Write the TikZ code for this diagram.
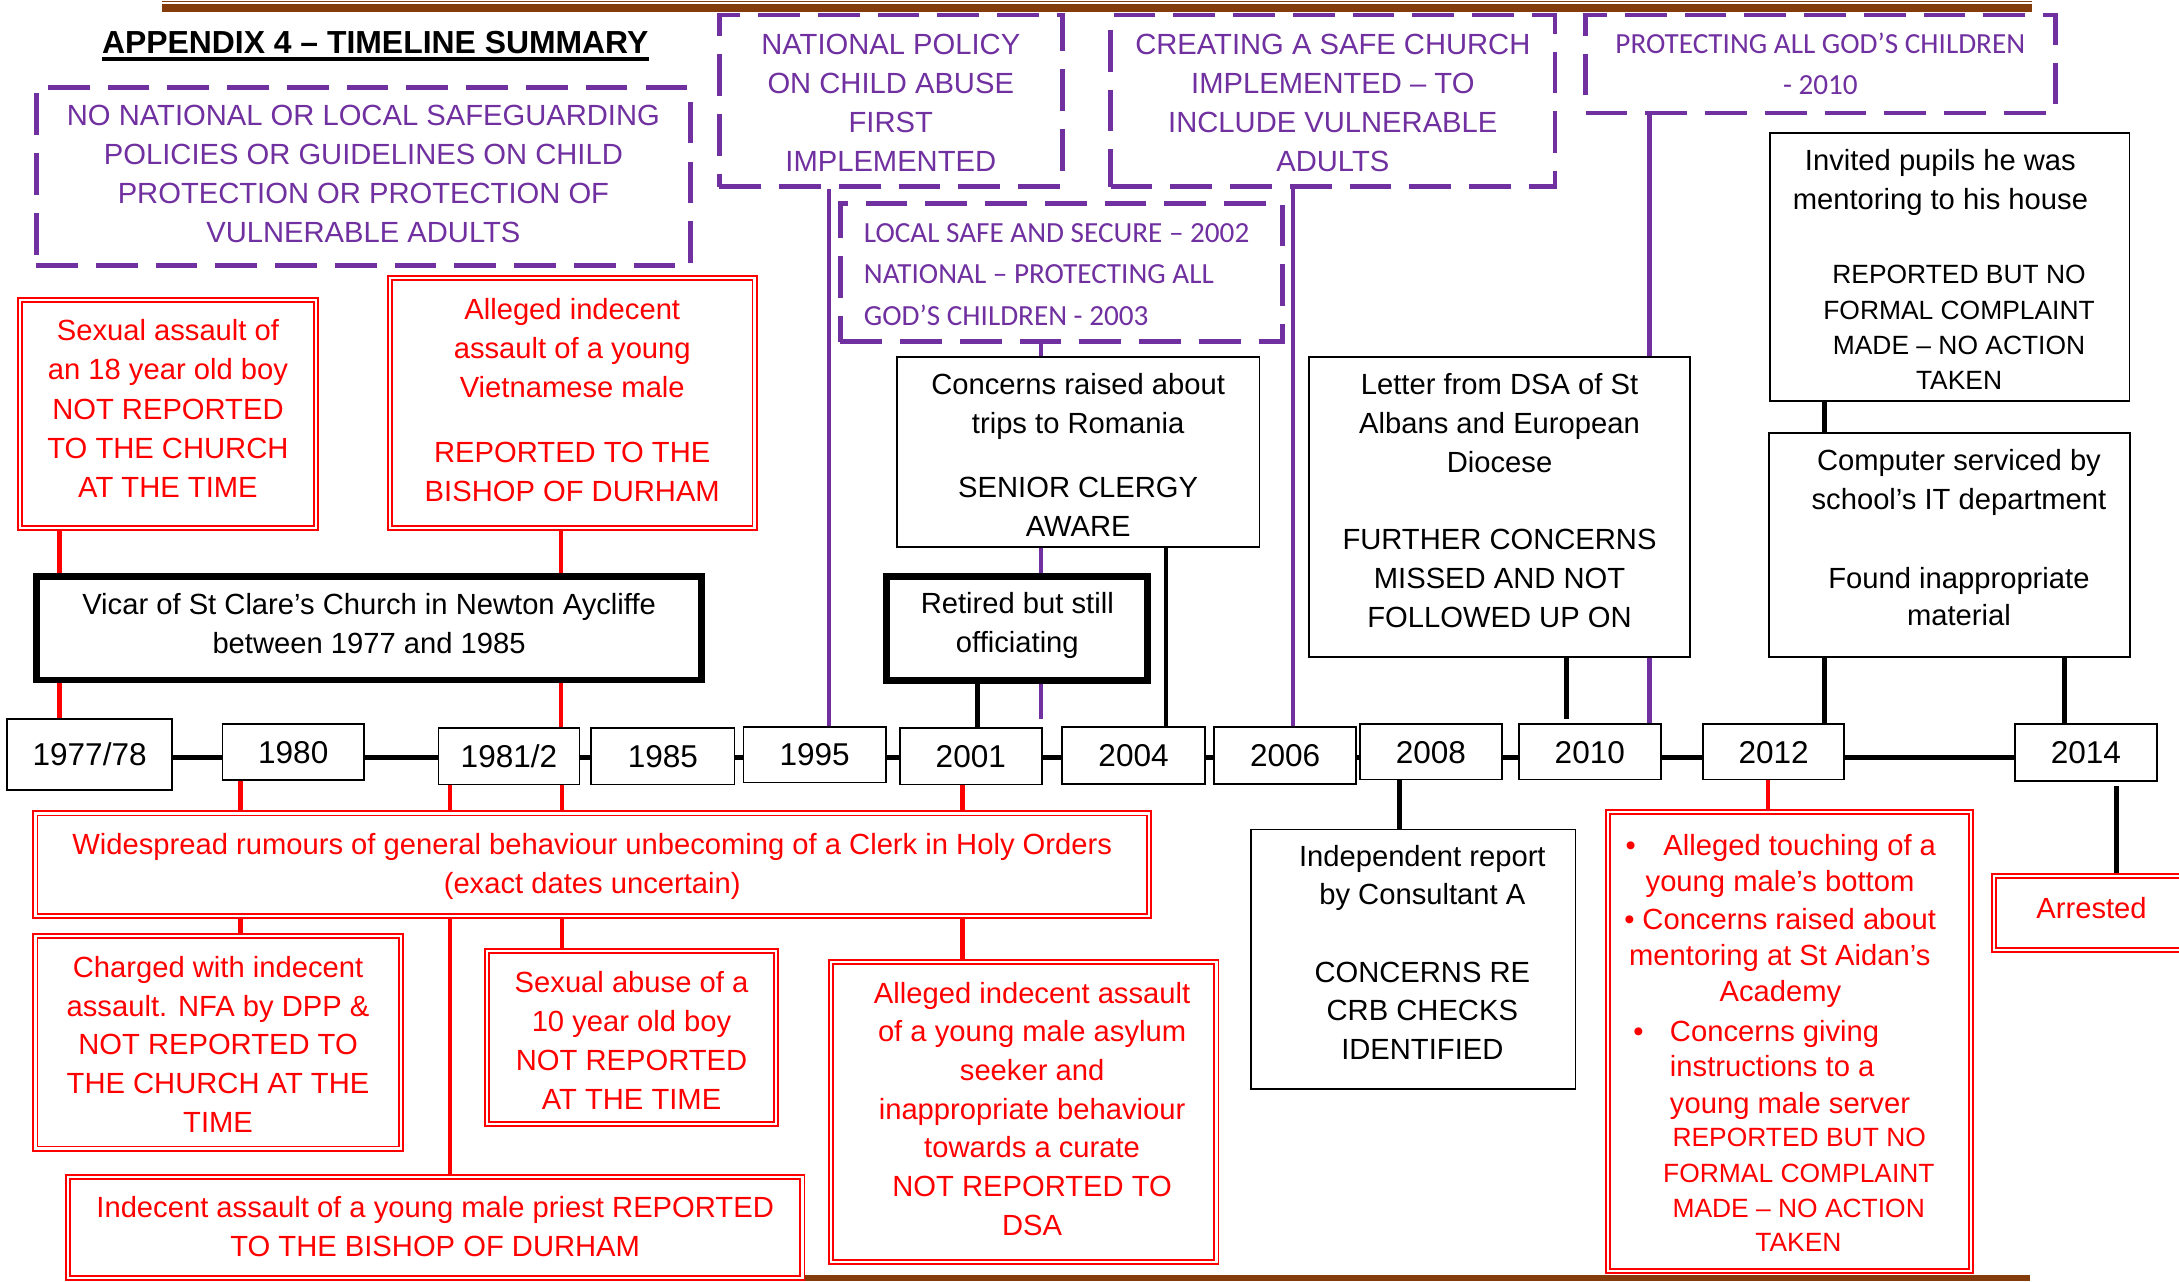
\documentclass[tikz,border=0pt]{standalone}
\usepackage{fontspec}
\setmainfont{Liberation Sans}
\newfontfamily\calibrifam{Carlito}
\usetikzlibrary{backgrounds,calc}
\definecolor{pur}{RGB}{112,48,160}
\definecolor{brn}{RGB}{132,60,12}
\definecolor{rd}{RGB}{255,0,0}
\newcommand{\txtsz}{\fontsize{21pt}{28.2pt}\selectfont}
\newcommand{\smsz}{\fontsize{19pt}{28.2pt}\selectfont}
\newcommand{\calsz}{\calibrifam\fontsize{21pt}{29pt}\selectfont}
\newcommand{\calesz}{\calibrifam\fontsize{21pt}{30pt}\selectfont}
\newcommand{\yrsz}{\fontsize{22.7pt}{27pt}\selectfont}
\tikzset{
  pbox/.style={draw=pur, line width=3.5pt, dash pattern=on 30pt off 13pt, fill=white, inner sep=0pt, text=pur, font=\txtsz, align=center, anchor=north},
  rbox/.style={draw=rd, double=white, double distance=1.6pt, line width=1.4pt, fill=white, inner sep=0pt, text=rd, font=\txtsz, align=center, anchor=north},
  kbox/.style={draw=black, line width=1.2pt, fill=white, inner sep=0pt, font=\txtsz, align=center, anchor=north},
  tbox/.style={draw=black, line width=5pt, fill=white, inner sep=0pt, font=\txtsz, align=center, anchor=north},
  ybox/.style={draw=black, line width=1.2pt, fill=white, inner sep=0pt, font=\yrsz, text height=16.3pt, text depth=0pt},
  rtxt/.style={inner sep=0pt, text=rd, font=\txtsz},
  pline/.style={draw=pur, line width=3pt},
  kline/.style={draw=black, line width=3.5pt},
  rline/.style={draw=rd, line width=3.2pt},
  brnline/.style={draw=brn}
}
\begin{document}
\begin{tikzpicture}[x=1pt,y=-1pt]
\useasboundingbox (0,0) rectangle (1568,922);

% page rules
\draw[brnline, line width=1pt] (116.6,1.2) -- (1462,1.2);
\draw[brnline, line width=5.5pt] (116.6,5.7) -- (1462,5.7);
\draw[brnline, line width=4pt] (579,919.5) -- (1461,919.5);

% title
\node[anchor=base west, inner sep=0pt, font=\bfseries\fontsize{22.95pt}{27pt}\selectfont] (title) at (73.2,38.4) {APPENDIX 4 – TIMELINE SUMMARY};
\draw[line width=2.6pt] ([yshift=-4.2pt]title.base west) -- ([yshift=-4.2pt]title.base east);

% purple policy boxes (text height = last baseline - top)
\node[pbox, minimum width=471pt, text height=112.1pt, text depth=16.4pt] (A) at (261.5,61)
  {NO NATIONAL OR LOCAL SAFEGUARDING\\POLICIES OR GUIDELINES ON CHILD\\PROTECTION OR PROTECTION OF\\VULNERABLE ADULTS};
\node[pbox, minimum width=246.6pt, text height=112.8pt, text depth=10.8pt] (B) at (641,9)
  {NATIONAL POLICY\\ON CHILD ABUSE\\FIRST\\IMPLEMENTED};
\node[pbox, minimum width=319.8pt, text height=112.8pt, text depth=10.8pt] (C) at (959.1,9)
  {CREATING A SAFE CHURCH\\IMPLEMENTED – TO\\INCLUDE VULNERABLE\\ADULTS};
\node[pbox, font=\calsz, minimum width=337.8pt, text height=56.9pt, text depth=13.7pt] (D) at (1309.9,9)
  {PROTECTING ALL GOD’S CHILDREN\\- 2010};
\node[pbox, font=\calesz, align=left, minimum width=318.3pt, text height=87.9pt, text depth=11.7pt] (E) at (763.85,144.6)
  {LOCAL SAFE AND SECURE – 2002\hspace*{7pt}\mbox{}\\NATIONAL – PROTECTING ALL\\GOD’S CHILDREN - 2003};

% black boxes
\node[kbox, minimum width=261.1pt, text height=129.5pt, text depth=7.6pt] (rom) at (775.85,256.1)
  {Concerns raised about\\trips to Romania\\[18pt]SENIOR CLERGY\\AWARE};
\node[kbox, minimum width=274.3pt, text height=194.9pt, text depth=21.4pt] (let) at (1079.05,256.1)
  {Letter from DSA of St\\Albans and European\\Diocese\\[27pt]FURTHER CONCERNS\\MISSED AND NOT\\FOLLOWED UP ON};
\node[kbox, minimum width=258.8pt, text height=184.7pt, text depth=8.3pt] (inv) at (1403,94.9)
  {Invited pupils he was\hspace*{13.4pt}\mbox{}\\mentoring to his house\hspace*{13.4pt}\mbox{}\\[25.3pt]\smsz\hspace*{13.4pt}REPORTED BUT NO\\[-2.9pt]\smsz\hspace*{13.4pt}FORMAL COMPLAINT\\[-2.9pt]\smsz\hspace*{13.4pt}MADE – NO ACTION\\[-2.9pt]\smsz\hspace*{13.4pt}TAKEN};
\node[kbox, minimum width=259.7pt, text height=138.2pt, text depth=23.1pt] (comp) at (1402.95,311.1)
  {\hspace*{13.4pt}Computer serviced by\\\hspace*{13.4pt}school’s IT department\\[28.3pt]\hspace*{13.4pt}Found inappropriate\\[-1.6pt]\hspace*{13.4pt}material};
\node[kbox, font=\fontsize{21pt}{27.6pt}\selectfont, minimum width=233.4pt, text height=165.4pt, text depth=21.4pt] (ind) at (1017.1,596.2)
  {\hspace*{12.8pt}Independent report\\\hspace*{12.8pt}by Consultant A\\[28.3pt]\hspace*{12.8pt}CONCERNS RE\\\hspace*{12.8pt}CRB CHECKS\\\hspace*{12.8pt}IDENTIFIED};

\node[tbox, minimum width=478.8pt, text height=55.5pt, text depth=19.1pt] (vic) at (265.6,412.2)
  {Vicar of St Clare’s Church in Newton Aycliffe\\between 1977 and 1985};
\node[tbox, minimum width=187.9pt, text height=55pt, text depth=20.1pt] (ret) at (732.05,412.2)
  {Retired but still\\officiating};

% red boxes
\node[rbox, minimum width=212.9pt, text height=142.3pt, text depth=21.9pt] (sex18) at (120.85,215)
  {Sexual assault of\\an 18 year old boy\\NOT REPORTED\\TO THE CHURCH\\AT THE TIME};
\node[rbox, minimum width=262.4pt, text height=160.7pt, text depth=19.1pt] (viet) at (411.8,199.4)
  {Alleged indecent\\assault of a young\\Vietnamese male\\[18.3pt]REPORTED TO THE\\BISHOP OF DURHAM};
\node[rbox, minimum width=801.3pt, text height=57.6pt, text depth=16.4pt] (wide) at (426.15,584.6)
  {Widespread rumours of general behaviour unbecoming of a Clerk in Holy Orders\\(exact dates uncertain)};
\node[rbox, font=\fontsize{21pt}{27.9pt}\selectfont, minimum width=262.8pt, text height=141.6pt, text depth=11.6pt] (chg) at (156.9,672.6)
  {Charged with indecent\\assault. NFA by DPP \&\\NOT REPORTED TO\\THE CHURCH AT THE\\TIME};
\node[rbox, minimum width=208.3pt, text height=114.1pt, text depth=10pt] (sex10) at (454.45,683.9)
  {Sexual abuse of a\\10 year old boy\\NOT REPORTED\\AT THE TIME};
\node[rbox, minimum width=528.5pt, text height=57.5pt, text depth=15.5pt] (priest) at (313.15,846)
  {Indecent assault of a young male priest REPORTED\\TO THE BISHOP OF DURHAM};
\node[rbox, font=\fontsize{21pt}{27.8pt}\selectfont, minimum width=277.2pt, text height=196.3pt, text depth=19.2pt] (asy) at (736.7,691.8)
  {\hspace*{12pt}Alleged indecent assault\\\hspace*{12pt}of a young male asylum\\\hspace*{12pt}seeker and\\\hspace*{12pt}inappropriate behaviour\\\hspace*{12pt}towards a curate\\\hspace*{12pt}NOT REPORTED TO\\\hspace*{12pt}DSA};
\node[rbox, minimum width=261.4pt, minimum height=330.4pt] (r2012) at (1287.7,583.6) {};
\node[rbox, minimum width=139.9pt, text height=30.5pt, text depth=22.5pt] (arr) at (1505.05,629.8) {Arrested};

% 2012 box text
\node[rtxt, anchor=base] (b1) at (1173.5,615.3) {•};
\node[rtxt, anchor=base west] (t1) at (1196.8,615.3) {Alleged touching of a};
\node[rtxt, anchor=base] (t2) at (1280.9,641.5) {young male’s bottom};
\node[rtxt, anchor=base] (b2) at (1172.6,668.7) {•};
\node[rtxt, anchor=base west] (t3) at (1181.7,668.7) {Concerns raised about};
\node[rtxt, anchor=base] (t4) at (1280.7,694.8) {mentoring at St Aidan’s};
\node[rtxt, anchor=base] (t5) at (1281.2,720.9) {Academy};
\node[rtxt, anchor=base] (b3) at (1179,749.2) {•};
\node[rtxt, anchor=base west] (t6) at (1201.5,749.2) {Concerns giving};
\node[rtxt, anchor=base west] (t7) at (1201.5,774.7) {instructions to a};
\node[rtxt, anchor=base west] (t8) at (1201.5,801.4) {young male server};
\node[rtxt, font=\smsz, anchor=base] (t9) at (1294.7,825.1) {REPORTED BUT NO};
\node[rtxt, font=\smsz, anchor=base] (t10) at (1294.5,850.7) {FORMAL COMPLAINT};
\node[rtxt, font=\smsz, anchor=base] (t11) at (1294.3,876.3) {MADE – NO ACTION};
\node[rtxt, font=\smsz, anchor=base] (t12) at (1294.1,900.9) {TAKEN};

% year boxes
\node[ybox, minimum width=119pt, minimum height=50.8pt] (y1977) at (64.5,543) {1977/78};
\node[ybox, minimum width=102pt, minimum height=40pt] (y1980) at (211,541.2) {1980};
\node[ybox, minimum width=101.5pt, minimum height=40.4pt] (y1981) at (366.25,544.2) {1981/2};
\node[ybox, minimum width=103pt, minimum height=40.4pt] (y1985) at (477,544.2) {1985};
\node[ybox, minimum width=102.5pt, minimum height=40pt] (y1995) at (586.25,543) {1995};
\node[ybox, minimum width=102pt, minimum height=40.4pt] (y2001) at (698.6,544.2) {2001};
\node[ybox, minimum width=102.6pt, minimum height=41pt] (y2004) at (815.7,543.5) {2004};
\node[ybox, minimum width=102.1pt, minimum height=41pt] (y2006) at (924.75,543.5) {2006};
\node[ybox, minimum width=102.6pt, minimum height=40pt] (y2008) at (1029.7,541) {2008};
\node[ybox, minimum width=102pt, minimum height=40pt] (y2010) at (1144,541) {2010};
\node[ybox, minimum width=101.5pt, minimum height=40pt] (y2012) at (1276.25,541) {2012};
\node[ybox, minimum width=102pt, minimum height=41pt] (y2014) at (1501,541.5) {2014};

\coordinate (p3end) at (749,517.6);
\coordinate (k3end) at (1127,517.2);
\coordinate (k8start) at (1523.1,565.7);

\begin{pgfonlayer}{background}
  % timeline
  \draw[line width=3.4pt] (y1977.east |- 0,545.2) -- (y2014.west |- 0,545.2);
  % purple
  \draw[pline] (B.south -| 596.5,0) -- (y1995.north -| 596.5,0);
  \draw[pline] (C.south -| 930.2,0) -- (y2006.north -| 930.2,0);
  \draw[pline] (E.south -| 749,0) -- (p3end);
  \draw[pline] (D.south -| 1187,0) -- (y2010.north -| 1187,0);
  % black
  \draw[kline] (rom.south -| 839,0) -- (y2004.north -| 839,0);
  \draw[kline] (ret.south -| 703.3,0) -- (y2001.north -| 703.3,0);
  \draw[kline] (let.south -| 1127,0) -- (k3end);
  \draw[kline] (inv.south -| 1312.7,0) -- (comp.north -| 1312.7,0);
  \draw[kline] (comp.south -| 1313,0) -- (y2012.north -| 1313,0);
  \draw[kline] (comp.south -| 1485.8,0) -- (y2014.north -| 1485.8,0);
  \draw[kline] (y2008.south -| 1006.9,0) -- (ind.north -| 1006.9,0);
  \draw[kline] (k8start) -- (arr.north -| k8start);
  % red
  \draw[rline] (sex18.south -| 42.9,0) -- (y1977.north -| 42.9,0);
  \draw[rline] (viet.south -| 403.5,0) -- (y1981.north -| 403.5,0);
  \draw[rline] (y1980.south -| 173.1,0) -- (chg.north -| 173.1,0);
  \draw[rline] (y1981.south -| 324,0) -- (priest.north -| 324,0);
  \draw[rline] (y1981.south -| 404.5,0) -- (sex10.north -| 404.5,0);
  \draw[rline] (y2001.south -| 692.5,0) -- (asy.north -| 692.5,0);
  \draw[rline] (y2012.south -| 1272.3,0) -- (r2012.north -| 1272.3,0);
\end{pgfonlayer}
\end{tikzpicture}
\end{document}
